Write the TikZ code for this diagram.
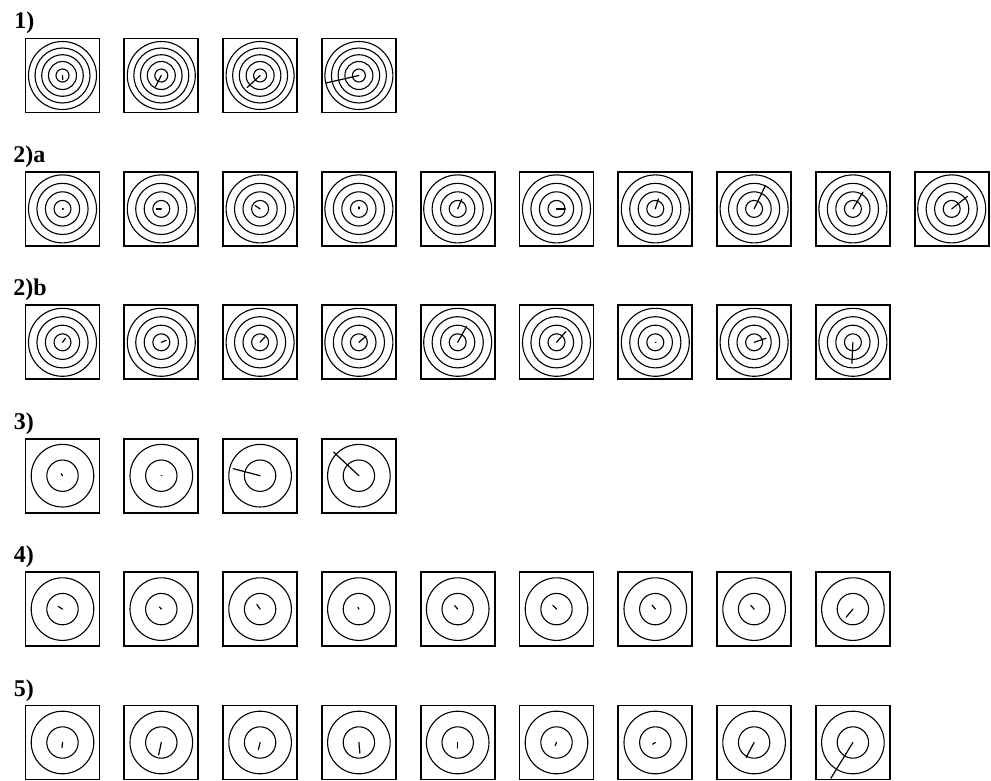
\documentclass[tikz,border=0pt]{standalone}
\usepackage{fontspec}
\setmainfont{Liberation Serif}

\begin{document}
\begin{tikzpicture}[
  x=0.5pt, y=-0.5pt,
  lbl/.style={anchor=base west, inner sep=0pt,
              font=\fontsize{12}{14}\selectfont\bfseries},
  cell/.style={draw, line width=0.9pt, minimum size=37pt, inner sep=0pt},
  ring/.style={line width=0.55pt},
  vec/.style={line width=0.6pt, line cap=round},
]
\useasboundingbox (0,0) rectangle (991,781);

% 1) five rings
\node[lbl] (l1) at (14,29) {1)};
\foreach \dx/\dy [count=\i from 0] in {0.3/4, -6/11.5, -13/12, -33/7.5}{
  \node[cell] (a\i) at (62.5+98.8*\i, 75.5) {};
  \foreach \r in {6.5,14,20.8,27.5,34}
    \draw[ring] (a\i.center) circle[radius=\r*0.5pt];
  \draw[vec] (a\i.center) -- ++(\dx,\dy);
}

% 2)a four rings
\node[lbl] (l2a) at (13,162.4) {2)a};
\foreach \dx/\dy [count=\i from 0] in {0.8/0, -5/0, -5/-3.3, 0/-2, 4/-9.5,
    8.7/0, 3/-10, 11.3/-23.3, 10/-16.7, 16/-12.7}{
  \node[cell] (b\i) at (62.5+98.8*\i, 208.9) {};
  \foreach \r in {8.5,17.1,25.6,34}
    \draw[ring] (b\i.center) circle[radius=\r*0.5pt];
  \draw[vec] (b\i.center) -- ++(\dx,\dy);
}

% 2)b four rings
\node[lbl] (l2b) at (13,295.8) {2)b};
\foreach \dx/\dy [count=\i from 0] in {3/-4, 5/-2, 5/-5.5, 7.3/-6.3, 9/-16,
    9.3/-10.7, 0.8/0, 12/-4, -1/21}{
  \node[cell] (c\i) at (62.5+98.8*\i, 342.3) {};
  \foreach \r in {8.5,17.1,25.6,34}
    \draw[ring] (c\i.center) circle[radius=\r*0.5pt];
  \draw[vec] (c\i.center) -- ++(\dx,\dy);
}

% 3) two rings
\node[lbl] (l3) at (13.5,429.2) {3)};
\foreach \dx/\dy [count=\i from 0] in {-1.3/-2, 0.5/0, -26.7/-7, -25.3/-23.7}{
  \node[cell] (d\i) at (62.5+98.8*\i, 475.7) {};
  \foreach \r in {15.7,31.3}
    \draw[ring] (d\i.center) circle[radius=\r*0.5pt];
  \draw[vec] (d\i.center) -- ++(\dx,\dy);
}

% 4) two rings
\node[lbl] (l4) at (13.5,562.6) {4)};
\foreach \dx/\dy [count=\i from 0] in {-4.3/-2.7, -1.7/-2, -3.3/-4.7, -1/-1.7,
    -3/-3.5, -3.7/-3.7, -3.3/-4, -3.3/-3.7, -6.7/8}{
  \node[cell] (e\i) at (62.5+98.8*\i, 609.1) {};
  \foreach \r in {15.7,31.3}
    \draw[ring] (e\i.center) circle[radius=\r*0.5pt];
  \draw[vec] (e\i.center) -- ++(\dx,\dy);
}

% 5) two rings
\node[lbl] (l5) at (13.5,696) {5)};
\foreach \dx/\dy [count=\i from 0] in {-0.5/5, -2.7/12.3, -1.7/7, 1/10.7,
    0/5.5, -1.3/3, -2.7/1.7, -8/15, -22/35.7}{
  \node[cell] (f\i) at (62.5+98.8*\i, 742.5) {};
  \foreach \r in {15.7,31.3}
    \draw[ring] (f\i.center) circle[radius=\r*0.5pt];
  \draw[vec] (f\i.center) -- ++(\dx,\dy);
}
\end{tikzpicture}
\end{document}
